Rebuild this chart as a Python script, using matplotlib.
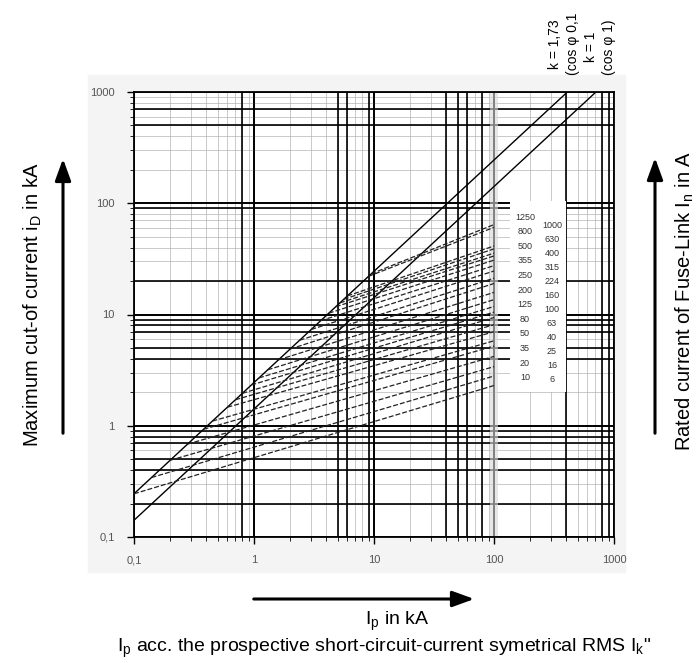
import numpy as np
import matplotlib.pyplot as plt
from matplotlib.patches import Rectangle, FancyArrowPatch

plt.rcParams["font.family"] = ["Liberation Sans", "DejaVu Sans"]
plt.rcParams["mathtext.fontset"] = "custom"
plt.rcParams["mathtext.rm"] = "Liberation Sans"
plt.rcParams["mathtext.it"] = "Liberation Sans:italic"

# fuse ratings (A), cut-off current at Ip = 100 kA (kA), start of limiting (kA, on the k=1.73 line)
ratings = [1250, 1000, 800, 630, 500, 400, 355, 315, 250, 224, 200, 160,
           125, 100, 80, 63, 50, 40, 35, 25, 20, 16, 10, 6]
i_end = [64.3, 60.7, 41.3, 38.9, 35.6, 33.6, 30.8, 27.5, 24.6, 21.2, 19.0, 15.8,
         13.6, 11.8, 10.5, 9.4, 8.1, 7.0, 5.8, 5.2, 4.2, 3.4, 2.8, 2.3]
i_start = [9.5, 9.0, 6.0, 5.6, 5.2, 4.8, 4.2, 3.6, 3.0, 2.4, 2.0, 1.6,
           1.3, 1.1, 0.95, 0.8, 0.7, 0.6, 0.45, 0.38, 0.28, 0.2, 0.14, 0.1]
i_max = 100

# peak factors of the two limit lines
k_values = [1.73, 1.0]
k_labels = ["k = 1,73\n(cos φ 0,1", "k = 1\n(cos φ 1)"]

ticks = [0.1, 1, 10, 100, 1000]
tick_labels = ["0,1", "1", "10", "100", "1000"]

# the scan shows some grid lines heavier than others
heavy_x = [0.8, 1, 5, 6, 9, 10, 40, 50, 60, 80, 100, 400, 800, 900]
heavy_y = [700, 500, 100, 90, 20, 10, 9, 8, 7, 5, 4, 1, 0.9, 0.8, 0.7, 0.5, 0.4, 0.2]

fig = plt.figure(figsize=(6.96, 6.63), dpi=100)
fig.patches.append(Rectangle((88 / 696, 1 - 572 / 663), 537 / 696, 497 / 663,
                             transform=fig.transFigure, color="#f4f4f4", zorder=-5))
ax = fig.add_axes([134 / 696, 1 - 537 / 663, 480 / 696, 445 / 663])
ax.set_xscale("log")
ax.set_yscale("log")
ax.set_xlim(0.1, 1000)
ax.set_ylim(0.1, 1000)

ax.grid(True, which="minor", color="#b4b4b4", lw=0.5)
ax.grid(True, which="major", color="black", lw=1.3)
for v in heavy_x:
    ax.axvline(v, color="black", lw=1.2, zorder=1.6)
for v in heavy_y:
    ax.axhline(v, color="black", lw=1.2, zorder=1.6)
ax.axvspan(92, 108, color="#d8d8d8", alpha=0.6, lw=0, zorder=1.7)

# white label field
ax.add_patch(Rectangle((136, 2.0), 400 - 136, 105 - 2.0, facecolor="white",
                       edgecolor="none", zorder=2))

# limit lines ip = k * sqrt(2) * Ip
for k in k_values:
    x_top = 1000 / (k * np.sqrt(2))
    ax.plot([0.1, x_top], [k * np.sqrt(2) * 0.1, 1000], color="black", lw=1.0, zorder=3)

# fuse cut-off curves
k0 = k_values[0] * np.sqrt(2)
for a, e in zip(i_start, i_end):
    ax.plot([a, i_max], [k0 * a, e], color="#222222", lw=0.9,
            linestyle=(0, (4, 1.6)), zorder=3)

# rating labels in two columns inside the white field
left = ratings[0::2]
right = ratings[1::2]
for col_x, labels, top, bottom in [(181, left, 75, 2.7), (304, right, 63, 2.6)]:
    ys = np.geomspace(top, bottom, len(labels))
    for lab, y in zip(labels, ys):
        ax.text(col_x, y, str(lab), fontsize=6.5, ha="center", va="center",
                color="#333333", zorder=4)

ax.set_xticks(ticks, tick_labels)
ax.set_yticks(ticks, tick_labels)
ax.tick_params(which="major", direction="out", length=5, width=1, labelsize=8,
               labelcolor="#555555")
ax.tick_params(which="minor", direction="out", length=3, width=0.6)
ax.tick_params(axis="y", which="major", pad=9)
ax.tick_params(axis="x", which="major", pad=8)
ax.xaxis.set_minor_formatter(plt.NullFormatter())
ax.yaxis.set_minor_formatter(plt.NullFormatter())
for s in ax.spines.values():
    s.set_linewidth(1.3)

# k labels above the limit lines
fig.text(564 / 696, 1 - 75 / 663, k_labels[0], rotation=90, ha="center", va="bottom",
         fontsize=10, linespacing=1.3)
fig.text(600 / 696, 1 - 75 / 663, k_labels[1], rotation=90, ha="center", va="bottom",
         fontsize=10, linespacing=1.3)

# axis titles with arrows
arrow_kw = dict(arrowstyle="-|>,head_length=1.1,head_width=0.4", mutation_scale=12,
                lw=2.2, color="black", transform=fig.transFigure)
fig.add_artist(FancyArrowPatch((63 / 696, 1 - 436 / 663), (63 / 696, 1 - 156 / 663), **arrow_kw))
fig.add_artist(FancyArrowPatch((655 / 696, 1 - 436 / 663), (655 / 696, 1 - 155 / 663), **arrow_kw))
fig.add_artist(FancyArrowPatch((251 / 696, 1 - 599 / 663), (477 / 696, 1 - 599 / 663), **arrow_kw))

fig.text(33 / 696, 1 - 305 / 663, r"Maximum cut-of current i$_\mathrm{D}$ in kA",
         rotation=90, ha="center", va="center", fontsize=14.5)
fig.text(685 / 696, 1 - 301 / 663, r"Rated current of Fuse-Link I$_\mathrm{n}$ in A",
         rotation=90, ha="center", va="center", fontsize=14.5)
fig.text(397 / 696, 1 - 621 / 663, r"I$_\mathrm{p}$ in kA", ha="center", va="center",
         fontsize=14)
fig.text(117 / 696, 1 - 648 / 663,
         r'I$_\mathrm{p}$ acc. the prospective short-circuit-current symetrical RMS I$_\mathrm{k}$"',
         ha="left", va="center", fontsize=14)

fig.savefig("out.png", dpi=100)
